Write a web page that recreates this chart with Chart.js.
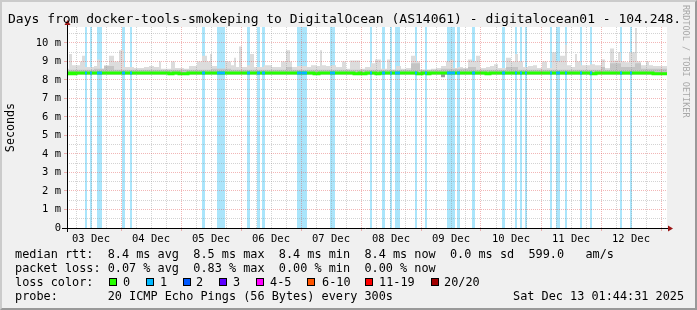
<!DOCTYPE html>
<html>
<head>
<meta charset="utf-8">
<script src="https://cdn.jsdelivr.net/npm/chart.js@4.4.1/dist/chart.umd.min.js"></script>
<style>
  body { margin: 0; background: #fff; }
  #wrap { position: relative; width: 697px; height: 310px; background: #f0f0f0; overflow: hidden;
          font-family: 'DejaVu Sans Mono', monospace; color: #000; }
  #wrap canvas { position: absolute; left: 0; top: 0; }
  .txt { position: absolute; white-space: pre; }
  #title { left: 8px; top: 11px; font-size: 13px; line-height: 16px; }
  .leg { left: 15px; font-size: 11.85px; line-height: 14px; }
  .box { position: absolute; width: 6px; height: 6px; border: 1px solid #000; top: 278px; }
  #mark { left: 681px; top: 5px; font-size: 8.5px; line-height: 10px; writing-mode: vertical-rl; color: #a8a8a8; }
  #frame { position: absolute; left: 0; top: 0; width: 697px; height: 310px; box-sizing: border-box;
           border: 2px solid; border-color: #cbcbcb #999 #999 #cbcbcb; pointer-events: none; }
</style>
</head>
<body>
<div id="wrap">
  <canvas id="chart" width="697" height="310"></canvas>
  <div class="txt" id="title">Days from docker-tools-smokeping to DigitalOcean (AS14061) - digitalocean01 - 104.248.</div>
  <div class="txt" id="mark">RRDTOOL / TOBI OETIKER</div>
  <div class="txt leg" style="top:247px">median rtt:  8.4 ms avg  8.5 ms max  8.4 ms min  8.4 ms now  0.0 ms sd  599.0   am/s</div>
  <div class="txt leg" style="top:261px">packet loss: 0.07 % avg  0.83 % max  0.00 % min  0.00 % now</div>
  <div class="txt leg" style="top:275px">loss color:</div>
  <div id="losslegend"></div>
  <div class="txt leg" style="top:289px">probe:       20 ICMP Echo Pings (56 Bytes) every 300s</div>
  <div class="txt leg" style="top:289px;left:513px">Sat Dec 13 01:44:31 2025</div>
  <div id="frame"></div>
</div>
<script>
// x values are hours since 03 Dec 00:00, y values are ms
var dayLabels = ['03 Dec', '04 Dec', '05 Dec', '06 Dec', '07 Dec', '08 Dec', '09 Dec', '10 Dec', '11 Dec', '12 Dec'];
var yLabels = ['0', '1 m', '2 m', '3 m', '4 m', '5 m', '6 m', '7 m', '8 m', '9 m', '10 m'];

// intervals with 1/20 packet loss
var lossStart = [9.6, 11.6, 14.4, 24.4, 27.6, 56.4, 62.4, 74.4, 78.4, 80.4, 94.4, 107.6, 123.6, 128.4, 131.6, 133.6,
                 141.6, 145.6, 154.4, 158.4, 164.4, 176.4, 181.6, 183.6, 185.6, 195.6, 198.0, 201.6, 207.6, 211.6, 223.6, 227.6];
var lossEnd   = [10.4, 12.4, 16.4, 25.6, 28.4, 57.6, 65.6, 75.6, 79.6, 81.6, 98.4, 109.6, 124.4, 129.6, 132.4, 135.6,
                 142.4, 146.4, 157.6, 159.6, 165.6, 177.6, 182.4, 184.4, 186.4, 196.4, 199.6, 202.4, 208.4, 212.4, 224.4, 228.4];

// top of the smoke (slowest pings), [hour, ms] held until the next entry
var smokeSteps = [
  [2.4, 8.6], [3.2, 9.4], [4.4, 8.8], [7.6, 9.0], [8.4, 9.3], [9.6, 8.7], [13.2, 8.75], [14.4, 9.1], [15.6, 8.6],
  [17.2, 8.8], [19.2, 9.3], [21.2, 9.0], [23.2, 9.6], [25.2, 8.7], [29.2, 8.65], [33.2, 8.7], [35.2, 8.75], [37.2, 8.7],
  [39.2, 9.0], [40.0, 8.6], [44.0, 9.0], [45.6, 8.65], [49.2, 8.6], [51.2, 8.75], [54.4, 9.0], [56.4, 9.3], [58.4, 9.0],
  [59.6, 9.4], [60.4, 8.75], [62.4, 8.6], [65.6, 9.0], [68.0, 8.8], [69.2, 9.2], [70.0, 8.7], [71.2, 9.8], [72.4, 8.7],
  [74.4, 8.8], [75.6, 9.4], [77.2, 8.7], [81.2, 8.8], [84.4, 8.7], [88.0, 9.0], [90.0, 9.6], [91.6, 9.0], [92.4, 8.7],
  [94.4, 8.75], [98.4, 8.7], [100.0, 8.8], [102.0, 8.75], [103.6, 9.6], [104.4, 8.8], [106.0, 8.75], [108.0, 8.8],
  [110.0, 8.7], [112.4, 9.0], [114.0, 8.6], [115.6, 9.05], [119.6, 8.6], [121.6, 8.7], [124.0, 8.9], [125.6, 9.1],
  [128.0, 8.6], [130.4, 9.1], [131.6, 10.8], [132.0, 8.55], [134.0, 8.75], [136.0, 8.6], [138.0, 8.65], [140.0, 9.3],
  [142.0, 9.0], [143.6, 8.55], [146.0, 8.55], [148.0, 8.6], [150.0, 8.65], [152.0, 8.75], [154.0, 9.0], [155.6, 9.1],
  [156.8, 8.65], [158.8, 8.7], [160.8, 8.65], [162.8, 9.1], [164.4, 9.0], [166.0, 9.3], [167.6, 8.65], [170.0, 8.7],
  [171.6, 8.75], [173.2, 8.85], [174.8, 8.65], [178.0, 9.2], [180.0, 9.0], [181.6, 9.4], [182.8, 9.0], [184.8, 8.7],
  [186.8, 8.75], [188.8, 8.8], [190.4, 8.65], [192.4, 9.0], [194.4, 8.65], [196.4, 9.5], [198.0, 9.0], [199.6, 9.3],
  [201.6, 9.9], [202.4, 8.8], [204.0, 8.7], [205.6, 9.4], [206.4, 9.0], [208.0, 8.8], [209.6, 8.8], [211.6, 8.85],
  [213.6, 8.8], [216.0, 9.1], [217.6, 8.65], [219.6, 9.7], [221.2, 9.05], [222.8, 9.5], [224.0, 9.0], [225.6, 8.95],
  [227.2, 9.5], [229.6, 10.8], [230.4, 9.0], [232.0, 8.8], [234.0, 9.0], [235.2, 8.8], [236.8, 8.75], [242.4, 8.75]
];

// denser smoke just above the median
var midSmokeSteps = [
  [2.4, 8.55], [13.2, 8.6], [17.2, 8.75], [21.2, 8.55], [60.4, 8.6], [68.0, 8.55], [90.0, 8.7], [92.4, 8.55],
  [140.0, 8.9], [143.6, 8.55], [152.0, 8.6], [162.8, 8.7], [166.0, 8.55], [178.0, 8.7], [182.8, 8.55], [216.0, 8.7],
  [217.6, 8.55], [219.6, 8.9], [224.0, 8.7], [229.6, 8.9], [232.0, 8.6], [242.4, 8.6]
];

// fastest pings, below the median
var lowSmokeSteps = [[2.4, 8.3], [152.0, 8.14], [153.6, 8.3], [242.4, 8.3]];

var medianSteps = [
  [2.4, 8.38], [3.2, 8.33], [4.0, 8.38], [5.2, 8.33], [6.0, 8.38], [43.2, 8.33], [44.8, 8.38], [47.2, 8.33],
  [50.8, 8.38], [101.2, 8.33], [103.2, 8.38], [117.2, 8.33], [119.2, 8.38], [120.0, 8.33], [122.0, 8.38],
  [126.0, 8.33], [127.6, 8.38], [142.4, 8.33], [144.4, 8.38], [146.4, 8.33], [147.6, 8.38], [170.0, 8.33],
  [171.6, 8.38], [212.0, 8.33], [214.0, 8.38], [236.8, 8.33], [242.4, 8.33]
];

var lossLabels = ['0', '1', '2', '3', '4-5', '6-10', '11-19', '20/20'];
var lossColors = ['#26ff00', '#00b8ff', '#0059ff', '#5e00ff', '#ff00ff', '#ff5500', '#ff0000', '#a10000'];

var T_MIN = 2.4, T_MAX = 242.4, Y_MAX = 10.86;
var MAJOR = 'rgba(225, 80, 80, 0.42)';
var MINOR = 'rgba(140, 140, 140, 0.38)';
var FONT = "'DejaVu Sans Mono', monospace";

// turn [hour, value] steps into a polyline with vertical jumps
function stepPoints(steps) {
  var pts = [];
  steps.forEach(function(s, i) {
    pts.push({ x: s[0], y: s[1] });
    if (i + 1 < steps.length) pts.push({ x: steps[i + 1][0], y: s[1] });
  });
  return pts;
}

function medianAt(t) {
  var v = medianSteps[0][1];
  medianSteps.forEach(function(s) { if (s[0] <= t) v = s[1]; });
  return v;
}

var lossBand = [{ x: T_MIN, y: 0 }];
var medianLoss = [];
lossStart.forEach(function(s, i) {
  var e = lossEnd[i];
  lossBand.push({ x: s, y: 0 }, { x: s, y: Y_MAX }, { x: e, y: Y_MAX }, { x: e, y: 0 });
  var m = medianAt(s);
  medianLoss.push({ x: s, y: m }, { x: e, y: m }, { x: e, y: null });
});
lossBand.push({ x: T_MAX, y: 0 });

// legend boxes
var boxX = [109, 146, 183, 219, 256, 307, 365, 431];
var labX = [123, 160, 196, 233, 270, 322, 379, 444];
var holder = document.getElementById('losslegend');
lossLabels.forEach(function(l, i) {
  var b = document.createElement('div');
  b.className = 'box';
  b.style.left = boxX[i] + 'px';
  b.style.background = lossColors[i];
  holder.appendChild(b);
  var t = document.createElement('div');
  t.className = 'txt leg';
  t.style.top = '275px';
  t.style.left = labX[i] + 'px';
  t.textContent = l;
  holder.appendChild(t);
});

var axesPlugin = {
  id: 'axes',
  beforeDraw: function(chart) {
    var a = chart.chartArea, c = chart.ctx;
    c.save();
    c.fillStyle = '#fff';
    c.fillRect(a.left, a.top, a.right - a.left, a.bottom - a.top);
    c.restore();
  },
  afterDraw: function(chart) {
    var a = chart.chartArea, c = chart.ctx;
    c.save();
    c.strokeStyle = '#000';
    c.lineWidth = 1;
    c.beginPath();
    c.moveTo(a.left - 5, a.bottom + 0.5);
    c.lineTo(a.right + 2, a.bottom + 0.5);
    c.moveTo(a.left + 0.5, a.bottom + 4);
    c.lineTo(a.left + 0.5, a.top - 3);
    c.stroke();
    c.fillStyle = '#9a1515';
    c.beginPath();
    c.moveTo(a.right + 6, a.bottom + 0.5);
    c.lineTo(a.right + 1, a.bottom - 2.5);
    c.lineTo(a.right + 1, a.bottom + 3.5);
    c.closePath();
    c.fill();
    c.beginPath();
    c.moveTo(a.left + 0.5, a.top - 7);
    c.lineTo(a.left - 2.5, a.top - 2);
    c.lineTo(a.left + 3.5, a.top - 2);
    c.closePath();
    c.fill();
    c.restore();
  }
};

function area(data, color, fill, order) {
  return {
    data: data, order: order, borderWidth: 1, borderColor: 'rgba(0,0,0,0)',
    backgroundColor: color, fill: fill, pointRadius: 0, tension: 0
  };
}

new Chart(document.getElementById('chart').getContext('2d'), {
  type: 'line',
  data: {
    datasets: [
      area(lossBand, '#aae5fb', 'origin', 6),
      area(stepPoints(smokeSteps), '#dcdcdc', { value: 8.4 }, 5),
      area(stepPoints(midSmokeSteps), '#c4c4c4', { value: 8.4 }, 4),
      area(stepPoints(lowSmokeSteps), '#9a9a9a', { value: 8.4 }, 3),
      {
        data: stepPoints(medianSteps), order: 2, borderColor: lossColors[0], borderWidth: 3,
        borderCapStyle: 'butt', pointRadius: 0, fill: false
      },
      {
        data: medianLoss, order: 1, spanGaps: false, borderColor: lossColors[1], borderWidth: 3,
        borderCapStyle: 'butt', pointRadius: 0, fill: false
      }
    ]
  },
  options: {
    responsive: false,
    animation: false,
    devicePixelRatio: 1,
    layout: { padding: { top: 27, right: 30, bottom: 65, left: 0 } },
    plugins: { legend: { display: false }, tooltip: { enabled: false }, title: { display: false } },
    scales: {
      x: {
        type: 'linear', min: T_MIN, max: T_MAX,
        afterBuildTicks: function(scale) {
          var t = [];
          for (var h = 6; h < T_MAX; h += 6) t.push({ value: h });
          scale.ticks = t;
        },
        afterFit: function(scale) { scale.height = 17; },
        grid: {
          z: 1, lineWidth: 1, drawTicks: true, tickLength: 3,
          color: function(ctx) { return ctx.tick && ctx.tick.value % 24 === 0 ? MAJOR : MINOR; },
          tickColor: function(ctx) { return ctx.tick && ctx.tick.value % 24 === 0 ? MAJOR : 'rgba(0,0,0,0)'; }
        },
        border: { display: false, dash: [1, 1] },
        ticks: {
          autoSkip: false, maxRotation: 0, minRotation: 0, padding: 2, color: '#000',
          font: { family: FONT, size: 10.5 },
          callback: function(v) { return v % 24 === 12 ? dayLabels[(v - 12) / 24] : ''; }
        }
      },
      y: {
        type: 'linear', min: 0, max: Y_MAX,
        afterBuildTicks: function(scale) {
          var t = [];
          for (var v = 0; v <= 10.5; v += 0.5) t.push({ value: v });
          scale.ticks = t;
        },
        afterFit: function(scale) { scale.width = 67; },
        grid: {
          z: 1, lineWidth: 1, drawTicks: true, tickLength: 3,
          color: function(ctx) { return ctx.tick && ctx.tick.value % 1 === 0 ? MAJOR : MINOR; },
          tickColor: function(ctx) { return ctx.tick && ctx.tick.value % 1 === 0 ? MAJOR : 'rgba(0,0,0,0)'; }
        },
        border: { display: false, dash: [1, 1] },
        title: { display: true, text: 'Seconds', color: '#000', font: { family: FONT, size: 11.7 }, padding: { top: 4, bottom: 0 } },
        ticks: {
          autoSkip: false, padding: 3, color: '#000',
          font: { family: FONT, size: 10.5 },
          callback: function(v) { return v % 1 === 0 ? yLabels[v] : ''; }
        }
      }
    }
  },
  plugins: [axesPlugin]
});
</script>
</body>
</html>
